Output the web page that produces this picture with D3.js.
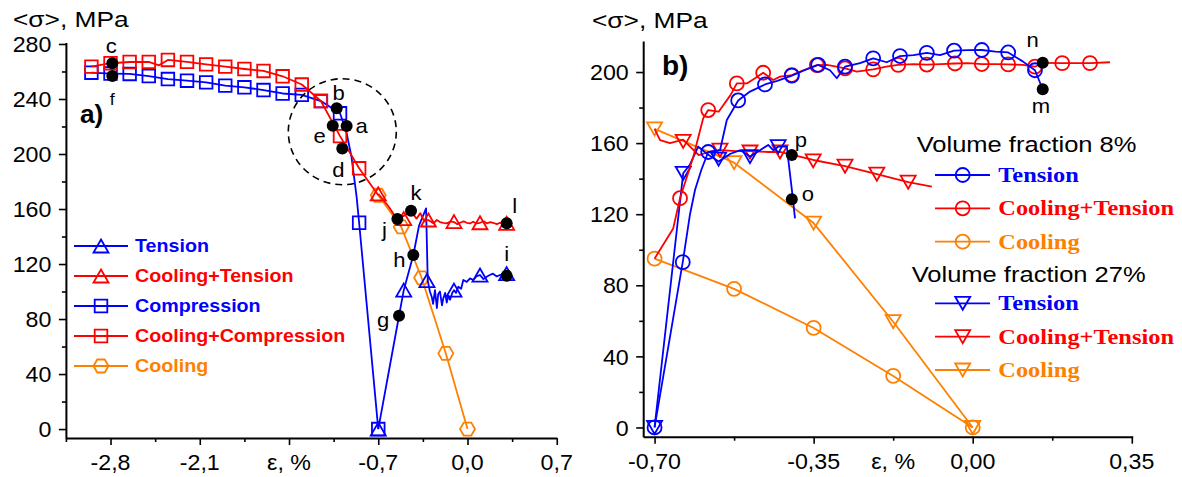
<!DOCTYPE html>
<html><head><meta charset="utf-8">
<script src="https://cdn.jsdelivr.net/npm/d3@7"></script>
<style>body{margin:0;background:#fff} svg{display:block}</style>
</head><body>
<svg id="c" width="1182" height="477"></svg>
<script>
// ---------------- DATA : panel a) ----------------
const aYTicks = [0, 40, 80, 120, 160, 200, 240, 280];
const aYMinor = [20, 60, 100, 140, 180, 220, 260];
const aXTicks = [-2.8, -2.1, -1.4, -0.7, 0.0, 0.7];
const aXTickLabels = ["-2,8", "-2,1", "ε, %", "-0,7", "0,0", "0,7"];
const aXMinor = [-3.15, -2.45, -1.75, -1.05, -0.35, 0.35];

const aCompressionLine = [[-0.70,0],[-0.85,150],[-0.87,169],[-0.91,198],[-0.95,216],[-1.00,229.6],[-1.15,238.5],[-1.30,243],[-1.45,244],[-1.60,246.5],[-1.75,248.5],[-1.90,249.7],[-2.05,252.1],[-2.20,253.3],[-2.35,254.5],[-2.50,256.7],[-2.65,258.2],[-2.80,258.5],[-2.95,259.1]];
const aCompressionMarks = [[-0.70,0],[-0.85,150],[-1.00,229.6],[-1.15,238.5],[-1.30,243],[-1.45,244],[-1.60,246.5],[-1.75,248.5],[-1.90,249.7],[-2.05,252.1],[-2.20,253.3],[-2.35,254.5],[-2.50,256.7],[-2.65,258.2],[-2.80,258.5],[-2.95,259.1]];

const aCoolCompLine = [[-0.70,170],[-0.85,189.6],[-1.00,213],[-1.15,238.5],[-1.30,250.5],[-1.45,256.5],[-1.60,260.4],[-1.75,261.8],[-1.90,263.5],[-2.05,265.2],[-2.20,267],[-2.35,268.4],[-2.42,264.5],[-2.50,267],[-2.65,266.9],[-2.80,266],[-2.95,263.5]];
const aCoolCompMarks = [[-0.85,189.6],[-1.00,213],[-1.15,238.5],[-1.30,250.5],[-1.45,256.5],[-1.60,260.4],[-1.75,261.8],[-1.90,263.5],[-2.05,265.2],[-2.20,267],[-2.35,268.4],[-2.50,267],[-2.65,266.9],[-2.80,266],[-2.95,263.5]];

const aTensionLine = [[-0.70,0],[-0.537,82.4],[-0.50,101],[-0.425,126.5],[-0.38,148],[-0.325,160.5],[-0.312,108],[-0.295,100],[-0.28,96],[-0.27,91],[-0.255,101],[-0.24,88],[-0.23,98],[-0.216,100],[-0.20,90],[-0.19,95],[-0.175,99],[-0.163,92],[-0.15,97],[-0.137,94],[-0.12,99],[-0.106,101],[-0.09,99],[-0.072,103.5],[-0.05,102],[-0.033,108.4],[-0.006,107],[0.02,109.6],[0.045,108.4],[0.07,111],[0.098,112],[0.125,109],[0.15,110.8],[0.175,112],[0.20,113],[0.23,111],[0.255,112],[0.28,112.5],[0.307,113]];
const aTensionMarks = [[-0.70,0],[-0.50,101],[-0.318,108],[-0.106,101],[0.098,112],[0.307,113]];

const aCoolTensionLine = [[-0.70,171],[-0.62,162],[-0.555,153],[-0.50,155],[-0.443,158.5],[-0.40,153],[-0.37,157],[-0.34,151],[-0.307,152],[-0.268,149.6],[-0.24,152],[-0.216,150.5],[-0.19,150],[-0.163,149.6],[-0.13,151],[-0.106,150.5],[-0.08,149],[-0.059,150],[-0.03,151],[-0.006,150],[0.02,149.5],[0.045,150.8],[0.07,149.5],[0.098,150],[0.13,151],[0.15,149.6],[0.18,150.5],[0.20,150],[0.23,149],[0.255,150],[0.28,150.5],[0.307,149.6]];
const aCoolTensionMarks = [[-0.70,171],[-0.50,153],[-0.307,152],[-0.106,150.8],[0.098,150],[0.307,149.6]];

const aCoolingLine = [[0,0],[-0.17,55],[-0.36,110],[-0.52,147],[-0.70,170]];

const aDotNames = ["a","b","c","d","e","f","g","h","i","j","k","l"];
const aDotEps   = [-0.948,-1.026,-2.786,-0.982,-1.057,-2.786,-0.537,-0.425,0.307,-0.55,-0.443,0.307];
const aDotSig   = [220.4, 233.2, 266, 204, 220.6, 256.7, 82.4, 126.5, 111.5, 152.7, 158.8, 149.6];

const aLegendNames = ["Tension","Cooling+Tension","Compression","Cooling+Compression","Cooling"];

// ---------------- DATA : panel b) ----------------
const bYTicks = [0, 40, 80, 120, 160, 200];
const bYMinor = [20, 60, 100, 140, 180];
const bXTicks = [-0.70, -0.35, 0.00, 0.35];
const bXTickLabels = ["-0,70", "-0,35", "0,00", "0,35"];
const bXMinor = [-0.525, -0.175, 0.175];
const bXTitleAt = -0.175;

const bTension8Line = [[-0.70,0],[-0.638,93],[-0.622,120],[-0.611,133.6],[-0.597,145],[-0.582,155],[-0.556,156],[-0.541,173],[-0.516,184],[-0.49,189],[-0.457,193],[-0.43,195],[-0.398,198],[-0.37,201],[-0.34,204],[-0.314,201],[-0.299,196.5],[-0.281,203],[-0.248,205],[-0.219,207.7],[-0.189,205.5],[-0.16,209],[-0.13,209.5],[-0.101,210.8],[-0.072,209.5],[-0.041,212],[-0.01,212.3],[0.02,212.4],[0.05,211.5],[0.078,211],[0.11,206],[0.137,201],[0.154,190.3]];
const bTension8Marks = [[-0.70,0],[-0.638,93],[-0.582,155],[-0.516,184],[-0.457,193],[-0.398,198],[-0.34,204],[-0.281,203],[-0.219,207.7],[-0.16,209],[-0.101,210.8],[-0.041,212],[0.02,212.4],[0.078,211],[0.137,201]];

const bCoolTension8Line = [[-0.70,95],[-0.659,112],[-0.644,129],[-0.615,152],[-0.593,174],[-0.582,178.6],[-0.559,177.7],[-0.533,187],[-0.519,193.6],[-0.497,193.6],[-0.479,196.5],[-0.461,199.6],[-0.439,195.5],[-0.424,197.4],[-0.398,198.3],[-0.373,201],[-0.343,203.9],[-0.321,204],[-0.30,203],[-0.281,202],[-0.255,200.2],[-0.219,201.5],[-0.19,203],[-0.164,204],[-0.13,204.5],[-0.101,204.2],[-0.07,204.5],[-0.039,204.8],[-0.01,205],[0.02,204.5],[0.05,204.5],[0.078,204.3],[0.11,204],[0.137,203],[0.154,205.2],[0.197,205],[0.258,205],[0.302,205.5]];
const bCoolTension8Marks = [[-0.644,129],[-0.582,178.6],[-0.519,193.6],[-0.461,199.6],[-0.398,198.3],[-0.343,203.9],[-0.281,202],[-0.219,201.5],[-0.164,204],[-0.101,204.2],[-0.039,204.8],[0.02,204.5],[0.078,204.3],[0.137,203],[0.197,205],[0.258,205]];

const bCooling8Line = [[-0.70,95],[-0.525,78],[-0.35,56],[-0.175,29],[0,0]];

const bTension27Line = [[-0.70,0],[-0.637,143],[-0.622,148],[-0.604,158],[-0.585,154],[-0.559,149.6],[-0.533,154],[-0.511,156],[-0.49,152.4],[-0.468,156],[-0.45,159],[-0.439,156],[-0.428,158],[-0.409,158],[-0.405,149],[-0.398,134],[-0.391,117.7]];
const bTension27Marks = [[-0.70,0],[-0.637,143],[-0.559,151],[-0.49,152.4],[-0.428,158]];

const bCoolTension27Line = [[-0.70,168],[-0.688,161.7],[-0.666,160],[-0.637,162],[-0.618,157],[-0.603,153.3],[-0.58,155],[-0.556,156],[-0.52,155.5],[-0.49,155.5],[-0.45,155],[-0.424,155],[-0.39,153],[-0.351,150.5],[-0.281,147],[-0.211,142.5],[-0.142,138],[-0.09,135.5]];
const bCoolTension27Marks = [[-0.637,161],[-0.556,156],[-0.49,155],[-0.424,155],[-0.351,150],[-0.281,147],[-0.211,142.5],[-0.142,138]];

const bCooling27Line = [[-0.70,168],[-0.525,149],[-0.35,115],[-0.175,59.5],[0,0]];

const bDotNames = ["m","n","o","p"];
const bDotEps   = [0.154, 0.154, -0.398, -0.398];
const bDotSig   = [190.3, 205.2, 128.4, 153.3];

const bLegendTitles = ["Volume fraction 8%", "Volume fraction 27%"];
const bLegendNames  = ["Tension","Cooling+Tension","Cooling"];

const yTitle = "<σ>, MPa";
const xTitle = "ε, %";

// ---------------- STYLE / LAYOUT ----------------
const BLUE = "#0000ff", RED = "#ff0000", ORANGE = "#ff8000";
const SANS = "'Liberation Sans', Arial, sans-serif";
const SERIF = "'Liberation Serif', 'Times New Roman', serif";

const svg = d3.select("#c");

function addText(g, x, y, str, o) {
  const t = g.append("text")
    .attr("transform", `translate(${x},${y}) scale(${o.sx || 1},1)`)
    .attr("font-family", o.family || SANS)
    .attr("font-size", o.size)
    .attr("font-weight", o.weight || "normal")
    .attr("fill", o.fill || "#000")
    .attr("text-anchor", o.anchor || "start");
  if (o.baseline) t.attr("dominant-baseline", o.baseline);
  t.text(str);
  return t;
}

const shapes = {
  triUp:  `M0,-6.5L7.5,6.5L-7.5,6.5Z`,
  triDown:`M0,6.5L7.5,-6.5L-7.5,-6.5Z`,
  square: `M-6.3,-6.3H6.3V6.3H-6.3Z`,
  circle: d3.symbol(d3.symbolCircle, Math.PI * 7 * 7)(),
  hex: (() => { const p = []; for (let i = 0; i < 6; i++) { const a = Math.PI / 3 * i; p.push([7.5 * Math.cos(a), 7.5 * Math.sin(a)]); } return "M" + p.map(d => d.map(v => v.toFixed(2)).join(",")).join("L") + "Z"; })()
};

function drawSeries(g, xs, ys, line, marks, color, shape) {
  const gen = d3.line().x(d => xs(d[0])).y(d => ys(d[1]));
  g.append("path").attr("d", gen(line)).attr("fill", "none")
    .attr("stroke", color).attr("stroke-width", 1.8).attr("stroke-linejoin", "round");
  g.selectAll(null).data(marks).enter().append("path")
    .attr("d", shapes[shape])
    .attr("transform", d => `translate(${xs(d[0])},${ys(d[1])})`)
    .attr("fill", "none").attr("stroke", color).attr("stroke-width", 1.8);
}

function drawAxes(g, xs, ys, cfg) {
  const x0 = xs.range()[0], yb = ys.range()[0];
  g.append("g").attr("transform", `translate(${x0},0)`)
    .call(d3.axisLeft(ys).tickValues(cfg.yTicks).tickSize(7).tickSizeOuter(0).tickFormat(""));
  g.append("g").attr("transform", `translate(${x0},0)`)
    .call(d3.axisLeft(ys).tickValues(cfg.yMinor).tickSize(4).tickSizeOuter(0).tickFormat(""))
    .select(".domain").remove();
  g.append("g").attr("transform", `translate(0,${yb})`)
    .call(d3.axisBottom(xs).tickValues(cfg.xTicks).tickSize(7).tickSizeOuter(0).tickFormat(""));
  g.append("g").attr("transform", `translate(0,${yb})`)
    .call(d3.axisBottom(xs).tickValues(cfg.xMinor).tickSize(4).tickSizeOuter(0).tickFormat(""))
    .select(".domain").remove();
  g.selectAll(".domain").attr("stroke", "#000").attr("stroke-width", 2);
  g.selectAll(".tick line").attr("stroke", "#000").attr("stroke-width", 1.6);
  cfg.yTicks.forEach(v => addText(g, x0 - 14.5, ys(v) + 1, String(v),
    { size: 21.5, sx: 1.08, anchor: "end", baseline: "central" }));
  cfg.xTicks.forEach((v, i) => addText(g, xs(v), yb + 32, cfg.xLabels[i],
    { size: 21.5, sx: 1.08, anchor: "middle" }));
}

// ---------------- PANEL a ----------------
const xA = d3.scaleLinear().domain([-3.15, 0.7]).range([65.9, 556.75]);
const yA = d3.scaleLinear().domain([-6.5, 281]).range([438, 42.6]);
const gA = svg.append("g");

drawAxes(gA, xA, yA, { yTicks: aYTicks, yMinor: aYMinor, xTicks: aXTicks, xMinor: aXMinor, xLabels: aXTickLabels });

drawSeries(gA, xA, yA, aCoolingLine, aCoolingLine, ORANGE, "hex");
drawSeries(gA, xA, yA, aCompressionLine, aCompressionMarks, BLUE, "square");
drawSeries(gA, xA, yA, aCoolCompLine, aCoolCompMarks, RED, "square");
drawSeries(gA, xA, yA, aTensionLine, aTensionMarks, BLUE, "triUp");
drawSeries(gA, xA, yA, aCoolTensionLine, aCoolTensionMarks, RED, "triUp");

gA.append("ellipse").attr("cx", xA(-0.982)).attr("cy", yA(216.2)).attr("rx", 54).attr("ry", 53)
  .attr("fill", "none").attr("stroke", "#000").attr("stroke-width", 1.6).attr("stroke-dasharray", "7,5");

const aLabelOff = { a:[15,7.3], b:[2,-8.3], c:[-1,-10.6], d:[-4,28.4], e:[-13,17.6], f:[0,29], g:[-16,11], h:[-14,12.3], i:[0,-14.7], j:[-13,17.7], k:[5,-10.7], l:[8,-10] };
aDotNames.forEach((n, i) => {
  const px = xA(aDotEps[i]), py = yA(aDotSig[i]);
  gA.append("circle").attr("cx", px).attr("cy", py).attr("r", 6).attr("fill", "#000");
  addText(gA, px + aLabelOff[n][0], py + aLabelOff[n][1], n, { size: n === "f" ? 17 : 21, sx: 1.05, anchor: "middle" });
});

addText(gA, 80, 123, "a)", { size: 25, weight: "bold", sx: 1.05 });
addText(gA, 13, 27, yTitle, { size: 22.5, sx: 1.17 });

const aLegColors = [BLUE, RED, BLUE, RED, ORANGE];
const aLegShapes = ["triUp", "triUp", "square", "square", "hex"];
aLegendNames.forEach((n, i) => {
  const yy = 246 + i * 30;
  gA.append("line").attr("x1", 74).attr("x2", 128).attr("y1", yy).attr("y2", yy)
    .attr("stroke", aLegColors[i]).attr("stroke-width", 1.8);
  gA.append("path").attr("d", shapes[aLegShapes[i]]).attr("transform", `translate(101,${yy})`)
    .attr("fill", "none").attr("stroke", aLegColors[i]).attr("stroke-width", 1.8);
  addText(gA, 135, yy, n, { size: 19, sx: 1.035, weight: "bold", fill: aLegColors[i], baseline: "central" });
});

// ---------------- PANEL b ----------------
const xB = d3.scaleLinear().domain([-0.725, 0.352]).range([643.2, 1132.7]);
const yB = d3.scaleLinear().domain([-5.2, 217.4]).range([436.7, 41.1]);
const gB = svg.append("g");

drawAxes(gB, xB, yB, { yTicks: bYTicks, yMinor: bYMinor, xTicks: bXTicks, xMinor: bXMinor, xLabels: bXTickLabels });
addText(gB, xB(bXTitleAt), yB.range()[0] + 32, xTitle, { size: 21.5, sx: 1.08, anchor: "middle" });

drawSeries(gB, xB, yB, bCooling8Line, bCooling8Line, ORANGE, "circle");
drawSeries(gB, xB, yB, bCooling27Line, bCooling27Line, ORANGE, "triDown");
drawSeries(gB, xB, yB, bCoolTension27Line, bCoolTension27Marks, RED, "triDown");
drawSeries(gB, xB, yB, bTension27Line, bTension27Marks, BLUE, "triDown");
drawSeries(gB, xB, yB, bCoolTension8Line, bCoolTension8Marks, RED, "circle");
drawSeries(gB, xB, yB, bTension8Line, bTension8Marks, BLUE, "circle");

const bLabelOff = { m:[-1.7,24], n:[-10,-16], o:[16,1.7], p:[9,-8.3] };
bDotNames.forEach((n, i) => {
  const px = xB(bDotEps[i]), py = yB(bDotSig[i]);
  gB.append("circle").attr("cx", px).attr("cy", py).attr("r", 6).attr("fill", "#000");
  addText(gB, px + bLabelOff[n][0], py + bLabelOff[n][1], n, { size: 21, sx: 1.05, anchor: "middle" });
});

addText(gB, 662, 75, "b)", { size: 28, weight: "bold", sx: 1.0 });
addText(gB, 592, 28, yTitle, { size: 22.5, sx: 1.17 });

const bLegColors = [BLUE, RED, ORANGE];
const bGroups = [
  { title: bLegendTitles[0], tx: 916.7, ty: 151.7, rows: [175, 208.3, 241.7], shape: "circle" },
  { title: bLegendTitles[1], tx: 911.7, ty: 281.7, rows: [303.3, 336.7, 370], shape: "triDown" }
];
bGroups.forEach(gr => {
  addText(gB, gr.tx, gr.ty, gr.title, { size: 22, sx: 1.16 });
  gr.rows.forEach((yy, i) => {
    gB.append("line").attr("x1", 935).attr("x2", 990).attr("y1", yy).attr("y2", yy)
      .attr("stroke", bLegColors[i]).attr("stroke-width", 1.8);
    gB.append("path").attr("d", shapes[gr.shape]).attr("transform", `translate(962.7,${yy})`)
      .attr("fill", "none").attr("stroke", bLegColors[i]).attr("stroke-width", 1.8);
    addText(gB, 998.3, yy + 7, bLegendNames[i], { size: 20, weight: "bold", family: SERIF, sx: 1.22, fill: bLegColors[i] });
  });
});
</script>
</body></html>
